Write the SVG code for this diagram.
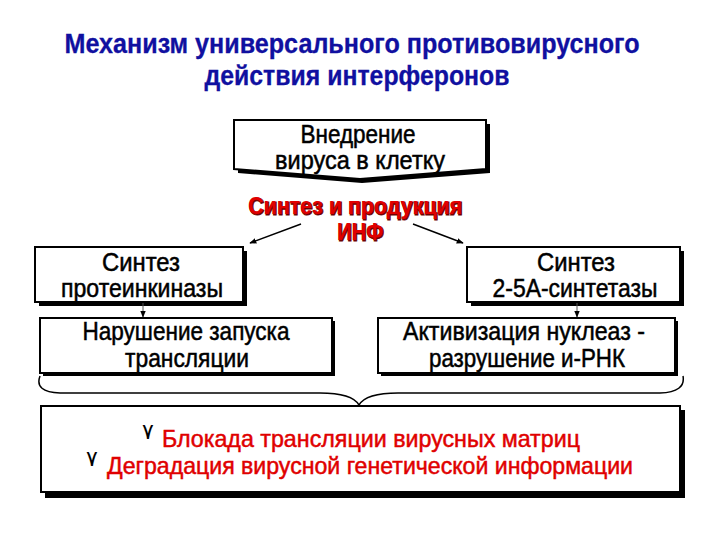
<svg xmlns="http://www.w3.org/2000/svg" width="720" height="540" viewBox="0 0 720 540">
<style>
.title{font-family:"Liberation Sans",Arial,sans-serif;font-weight:bold;font-size:27px;fill:#1010a0;text-anchor:middle;stroke:#1010a0;stroke-width:0.3}
.lbl{font-family:"Liberation Sans",Arial,sans-serif;font-size:25px;fill:#000;text-anchor:middle;stroke:#000;stroke-width:0.5}
.red{font-family:"Liberation Sans",Arial,sans-serif;font-weight:bold;font-size:24px;fill:#e00000;text-anchor:middle}
.redshadow{font-family:"Liberation Sans",Arial,sans-serif;font-weight:bold;font-size:24px;fill:#700000;text-anchor:middle;stroke:#700000;stroke-width:1}
.res{font-family:"Liberation Sans",Arial,sans-serif;font-size:24px;fill:#e00000;stroke:#e00000;stroke-width:0.5}
.bul{font-family:"DejaVu Sans",sans-serif;font-size:22px;fill:#000}
.box{fill:#fff;stroke:#000;stroke-width:2}
.shd{fill:#000}
.con{fill:none;stroke:#000;stroke-width:1.5}
</style>
<defs>
<marker id="ah" viewBox="0 0 10 10" refX="9" refY="5" markerWidth="7" markerHeight="7" orient="auto" markerUnits="userSpaceOnUse">
<path d="M0,1 L10,5 L0,9 z" fill="#000"/>
</marker>
</defs>
<rect width="720" height="540" fill="#fff"/>
<g id="title">
<text class="title" x="352" y="53" textLength="575" lengthAdjust="spacingAndGlyphs">Механизм универсального противовирусного</text>
<text class="title" x="357" y="85" textLength="305" lengthAdjust="spacingAndGlyphs">действия интерферонов</text>
</g>
<g id="n-entry">
<path class="shd" d="M238,124 H490 V173 L362,183 L238,173 Z"/>
<path class="box" d="M234,120 H486 V169 L360,179 L234,169 Z"/>
<text class="lbl" x="358" y="143" textLength="115" lengthAdjust="spacingAndGlyphs">Внедрение</text>
<text class="lbl" x="360" y="169" textLength="170" lengthAdjust="spacingAndGlyphs">вируса в клетку</text>
</g>
<g id="n-synth">
<text class="redshadow" x="356" y="215" textLength="214" lengthAdjust="spacingAndGlyphs">Синтез и продукция</text>
<text class="red" x="355" y="214" textLength="214" lengthAdjust="spacingAndGlyphs">Синтез и продукция</text>
<text class="redshadow" x="361" y="241" textLength="46" lengthAdjust="spacingAndGlyphs">ИНФ</text>
<text class="red" x="360" y="240" textLength="46" lengthAdjust="spacingAndGlyphs">ИНФ</text>
</g>
<g id="n-pk">
<rect class="shd" x="39" y="251" width="208" height="55"/>
<rect class="box" x="35" y="247" width="208" height="55"/>
<text class="lbl" x="141" y="271" textLength="78" lengthAdjust="spacingAndGlyphs">Синтез</text>
<text class="lbl" x="142" y="297" textLength="162" lengthAdjust="spacingAndGlyphs">протеинкиназы</text>
</g>
<g id="n-25a">
<rect class="shd" x="471" y="251" width="213" height="55"/>
<rect class="box" x="467" y="247" width="213" height="55"/>
<text class="lbl" x="576" y="271" textLength="78" lengthAdjust="spacingAndGlyphs">Синтез</text>
<text class="lbl" x="575" y="297" textLength="165" lengthAdjust="spacingAndGlyphs">2-5А-синтетазы</text>
</g>
<g id="n-trans">
<rect class="shd" x="43" y="321" width="292" height="55"/>
<rect class="box" x="40" y="318" width="292" height="55"/>
<text class="lbl" x="186" y="340" textLength="207" lengthAdjust="spacingAndGlyphs">Нарушение запуска</text>
<text class="lbl" x="187" y="367" textLength="124" lengthAdjust="spacingAndGlyphs">трансляции</text>
</g>
<g id="n-nucl">
<rect class="shd" x="381" y="321" width="297" height="55"/>
<rect class="box" x="378" y="318" width="297" height="55"/>
<text class="lbl" x="524" y="340" textLength="242" lengthAdjust="spacingAndGlyphs">Активизация нуклеаз -</text>
<text class="lbl" x="527" y="367" textLength="196" lengthAdjust="spacingAndGlyphs">разрушение и-РНК</text>
</g>
<g id="n-result">
<rect class="shd" x="45" y="410" width="640" height="88"/>
<rect class="box" x="41" y="406" width="639" height="86"/>
<text class="bul" x="142" y="439">٧</text>
<text class="res" x="162" y="447" textLength="418" lengthAdjust="spacingAndGlyphs">Блокада трансляции вирусных матриц</text>
<text class="bul" x="86" y="466">٧</text>
<text class="res" x="107" y="474" textLength="526" lengthAdjust="spacingAndGlyphs">Деградация вирусной генетической информации</text>
</g>
<g id="connectors">
<line class="con" x1="301" y1="224" x2="250" y2="243" marker-end="url(#ah)"/>
<line class="con" x1="413" y1="224" x2="463" y2="243" marker-end="url(#ah)"/>
<line x1="143" y1="303" x2="143" y2="317" stroke="#555" stroke-width="1" marker-end="url(#ah)"/>
<line x1="577" y1="303" x2="577" y2="317" stroke="#555" stroke-width="1" marker-end="url(#ah)"/>
<path class="con" stroke-width="2" d="M40,376 Q34,392 60,393 L320,393 Q352,393 359,405 Q366,393 398,393 L660,393 Q686,392 683,376"/>
</g>
</svg>
